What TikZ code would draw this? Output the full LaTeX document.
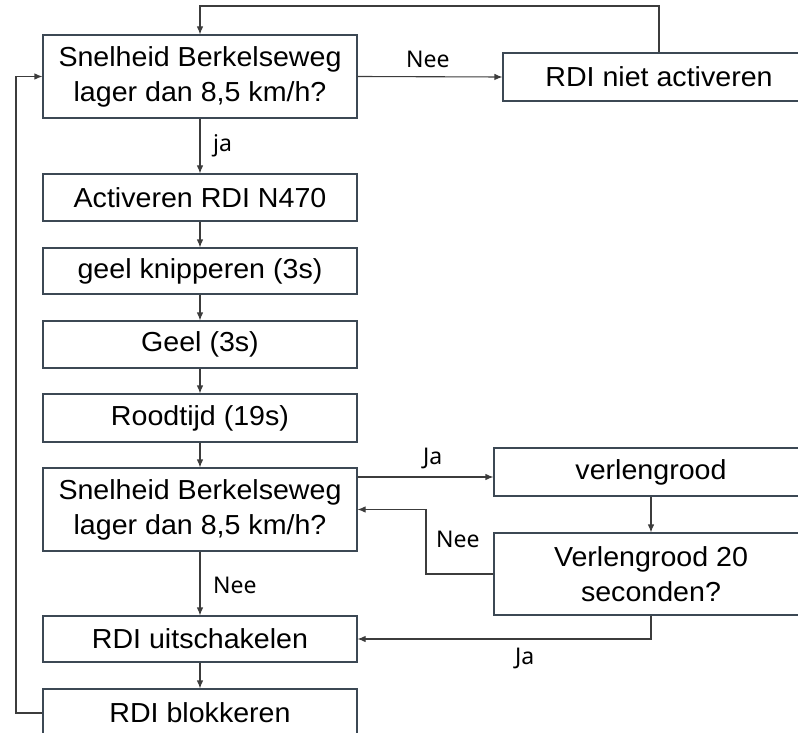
\documentclass[tikz,border=0pt]{standalone}
\usepackage{fontspec}
\setmainfont{Liberation Sans}[FakeStretch=1.04]
\newfontfamily\lblfont{Noto Sans}[FakeStretch=1.0]
\usetikzlibrary{arrows.meta}
\definecolor{boxc}{RGB}{60,72,84}
\definecolor{linec}{RGB}{60,60,60}
\begin{document}
\begin{tikzpicture}[x=1pt,y=-1pt,
  box/.style={draw=boxc, line width=1.1pt, fill=white, minimum width=314pt,
    inner sep=0pt, align=center, font=\fontsize{27.5}{35}\selectfont},
  rbox/.style={box, minimum width=312pt},
  arr/.style={draw=linec, line width=1.1pt, -{Latex[length=8pt,width=6.5pt]}},
  lbl/.style={inner sep=0pt, anchor=base west, font=\lblfont\fontsize{23}{26}\selectfont}]
\useasboundingbox (0,0) rectangle (798,733);
% main column
\node[box, minimum height=83pt] (b1) at (200,76.5) {Snelheid Berkelseweg\\lager dan 8,5 km/h?};
\node[box, minimum height=47pt] (b2) at (200,197.5) {Activeren RDI N470};
\node[box, minimum height=46pt] (b3) at (200,271) {geel knipperen (3s)};
\node[box, minimum height=47pt] (b4) at (200,344.5) {Geel (3s)};
\node[box, minimum height=48pt] (b5) at (200,418) {Roodtijd (19s)};
\node[box, minimum height=83pt] (b6) at (200,509.5) {Snelheid Berkelseweg\\lager dan 8,5 km/h?};
\node[box, minimum height=46pt] (b7) at (200,639) {RDI uitschakelen};
\node[box, minimum height=48pt] (b8) at (200,713) {RDI blokkeren};
% right column
\node[rbox, minimum height=48pt] (rn) at (659,77) {RDI niet activeren};
\node[rbox, minimum width=314pt, minimum height=48pt] (vr) at (651,472) {verlengrood};
\node[rbox, minimum width=314pt, minimum height=82pt] (v20) at (651,574) {Verlengrood 20\\seconden?};
% helper coordinates
\coordinate (top) at (0,6);
\coordinate (lft) at (16,0);
\coordinate (ja1) at (0,477);
\coordinate (nk) at (426,0);
% connectors
\draw[arr] (rn.north) -- (rn.north |- top) -| (b1.north);
\draw[arr] (b1.east) -- (rn.west);
\draw[arr] (b1) -- (b2);
\draw[arr] (b2) -- (b3);
\draw[arr] (b3) -- (b4);
\draw[arr] (b4) -- (b5);
\draw[arr] (b5) -- (b6);
\draw[arr] (b6) -- (b7);
\draw[arr] (b7) -- (b8);
\draw[arr] (b8.west) -- (b8.west -| lft) |- (b1.west);
\draw[arr] (b6.east |- ja1) -- (vr.west |- ja1);
\draw[arr] (vr) -- (v20);
\draw[arr] (v20.west) -- (v20.west -| nk) |- (b6.east);
\draw[arr] (v20.south) |- (b7.east);
% labels
\node[lbl] (l1) at (406,68) {Nee};
\node[lbl] (l2) at (213,152) {ja};
\node[lbl] (l3) at (213,593) {Nee};
\node[lbl] (l4) at (423,464) {Ja};
\node[lbl] (l5) at (436,547) {Nee};
\node[lbl] (l6) at (515,664) {Ja};
\end{tikzpicture}
\end{document}
